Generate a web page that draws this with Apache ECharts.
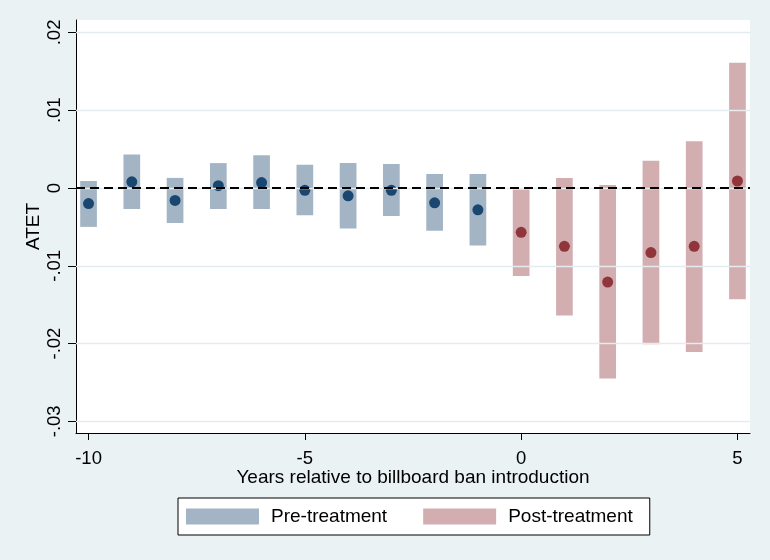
<!DOCTYPE html>
<html><head><meta charset="utf-8">
<script src="https://cdn.jsdelivr.net/npm/echarts@6/dist/echarts.min.js"></script>
<style>html,body{margin:0;padding:0;background:#EAF2F3}#c{width:770px;height:560px}</style>
</head><body><div id="c"></div>
<script>
const preYears = [-10,-9,-8,-7,-6,-5,-4,-3,-2,-1];
const preEst = [-0.0020,0.0008,-0.0016,0.0003,0.0007,-0.0003,-0.0010,-0.0003,-0.0019,-0.0028];
const preLo = [-0.0050,-0.0027,-0.0045,-0.0027,-0.0027,-0.0035,-0.0052,-0.0036,-0.0055,-0.0074];
const preHi = [0.0009,0.0043,0.0013,0.0032,0.0042,0.0030,0.0032,0.0031,0.0018,0.0018];
const postYears = [0,1,2,3,4,5];
const postEst = [-0.0057,-0.0075,-0.0121,-0.0083,-0.0075,0.0009];
const postLo = [-0.0113,-0.0164,-0.0245,-0.0201,-0.0211,-0.0143];
const postHi = [-0.0002,0.0013,0.0004,0.0035,0.0060,0.0161];
const xTicks = [-10,-5,0,5];
const yTicks = [-0.03,-0.02,-0.01,0,0.01,0.02];

const FONT = "Arial, 'Liberation Sans', sans-serif";
const chart = echarts.init(document.getElementById('c'));

function renderCI(params, api){
  const x = api.value(0), lo = api.value(1), hi = api.value(2);
  const p1 = api.coord([x, hi]), p2 = api.coord([x, lo]);
  const w = api.size([0.386, 0])[0];
  return {type:'rect', shape:{x:p1[0]-w/2, y:p1[1], width:w, height:p2[1]-p1[1]},
          style:{fill: api.visual('color')}};
}
function yFmt(v){
  if (Math.abs(v) < 1e-12) return '0';
  const s = String(Math.abs(+v.toFixed(4))).replace(/^0/, '');
  return (v < 0 ? '-' : '') + s;
}

chart.setOption({
  animation:false,
  backgroundColor:'#EAF2F3',
  grid:{left:76, right:20, top:20, bottom:127, show:true, backgroundColor:'#fff', borderWidth:0, outerBoundsMode:'none'},
  legend:{
    data:[{name:'Pre-treatment', icon:'rect'},{name:'Post-treatment', icon:'rect'}],
    left:178, top:498, itemWidth:73, itemHeight:16, itemGap:36,
    padding:[9,17,9,8], backgroundColor:'#fff', borderColor:'#000', borderWidth:1, borderRadius:0,
    selectedMode:false,
    textStyle:{fontSize:19, color:'#000', fontFamily:FONT, padding:[0,0,0,7]}
  },
  xAxis:{
    type:'value', min:-10.29, max:5.29,
    splitLine:{show:false},
    axisLine:{show:true, onZero:false, lineStyle:{color:'#000', width:1}},
    axisTick:{show:true, customValues:xTicks, length:7, lineStyle:{color:'#000'}},
    axisLabel:{customValues:xTicks, fontSize:18.5, color:'#000', fontFamily:FONT, margin:16},
    name:'Years relative to billboard ban introduction', nameLocation:'middle', nameGap:35,
    nameMoveOverlap:false,
    nameTextStyle:{fontSize:19, color:'#000', fontFamily:FONT}
  },
  yAxis:{
    type:'value', min:-0.0315, max:0.0216,
    splitLine:{show:false},
    axisLine:{show:true, onZero:false, lineStyle:{color:'#000', width:1}},
    axisTick:{show:true, customValues:yTicks, length:8, lineStyle:{color:'#000'}},
    axisLabel:{customValues:yTicks, fontSize:18.5, color:'#000', fontFamily:FONT, rotate:90, margin:12, formatter:yFmt},
    name:'ATET', nameLocation:'middle', nameGap:33,
    nameMoveOverlap:false,
    nameTextStyle:{fontSize:19, color:'#000', fontFamily:FONT}
  },
  series:[
    {type:'line', name:'grid', data:[], z:1, silent:true,
     markLine:{silent:true, symbol:['none','none'], label:{show:false}, animation:false,
       lineStyle:{color:'#E4ECEF', type:'solid', width:1.3},
       data: yTicks.map(v=>({yAxis:v}))}},
    {type:'custom', name:'Pre-treatment', z:2, renderItem:renderCI,
     itemStyle:{color:'rgba(26,71,111,0.4)'},
     encode:{x:0, y:[1,2]},
     data: preYears.map((x,i)=>[x, preLo[i], preHi[i]])},
    {type:'custom', name:'Post-treatment', z:2, renderItem:renderCI,
     itemStyle:{color:'rgba(144,53,59,0.4)'},
     encode:{x:0, y:[1,2]},
     data: postYears.map((x,i)=>[x, postLo[i], postHi[i]])},
    {type:'line', name:'zero', data:[], z:3, silent:true,
     markLine:{silent:true, symbol:['none','none'], label:{show:false}, animation:false,
       lineStyle:{color:'#000', type:[9,5], width:2},
       data:[{yAxis:0}]}},
    {type:'scatter', name:'preDots', z:4, symbolSize:11, itemStyle:{color:'#1A476F', opacity:1},
     data: preYears.map((x,i)=>[x, preEst[i]])},
    {type:'scatter', name:'postDots', z:4, symbolSize:11, itemStyle:{color:'#90353B', opacity:1},
     data: postYears.map((x,i)=>[x, postEst[i]])}
  ]
});
</script></body></html>
